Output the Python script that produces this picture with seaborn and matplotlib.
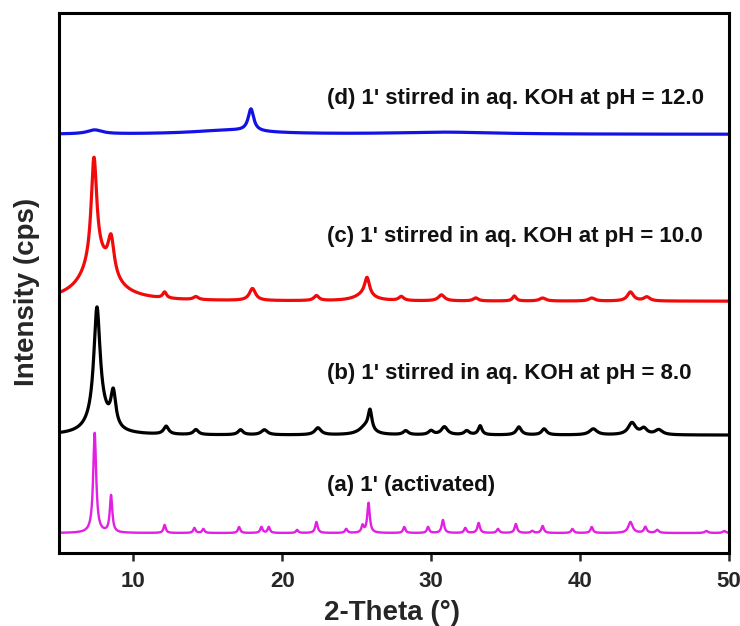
import numpy as np
import pandas as pd
import matplotlib
matplotlib.use("Agg")
import matplotlib.pyplot as plt
import seaborn as sns
from matplotlib import font_manager

# Peak lists per pattern: position (2-theta, deg), height (cps, offset scale), FWHM (deg)
a_pos = [7.4, 8.5, 12.1, 14.1, 14.7, 17.1, 18.6, 19.1, 21.0, 22.3, 24.3, 25.4, 25.8,
         28.2, 29.8, 30.8, 32.3, 33.2, 34.5, 35.7, 36.8, 37.5, 39.5, 40.8, 43.4, 44.4,
         45.2, 48.5, 49.7]
a_hgt = [100, 37, 8, 5, 4, 6, 6, 6, 3, 11, 4, 7, 30,
         6, 6, 13, 5, 10, 4, 9, 2, 7, 4, 6, 11, 6,
         3, 2, 2]
a_wid = [0.24, 0.2, 0.18, 0.18, 0.18, 0.18, 0.18, 0.18, 0.18, 0.2, 0.18, 0.18, 0.2,
         0.18, 0.18, 0.2, 0.18, 0.2, 0.2, 0.2, 0.2, 0.2, 0.2, 0.2, 0.35, 0.22,
         0.25, 0.25, 0.25]

b_pos = [7.55, 7.7, 8.65, 12.2, 14.2, 17.2, 18.8, 22.4, 25.6, 25.9, 28.3, 30.0, 30.9,
         32.4, 33.3, 35.9, 37.6, 40.9, 43.5, 44.3, 45.3]
b_hgt = [108, 20, 34, 8, 5, 5, 5, 7, 8, 20, 4, 4, 8,
         4, 9, 8, 6, 6, 12, 6, 5]
b_wid = [0.5, 1.5, 0.4, 0.4, 0.4, 0.4, 0.5, 0.5, 1.0, 0.3, 0.4, 0.4, 0.5,
         0.4, 0.3, 0.4, 0.4, 0.6, 0.6, 0.5, 0.6]

c_pos = [7.35, 7.6, 8.5, 12.1, 14.2, 18.0, 22.3, 25.5, 25.7, 28.0, 30.7, 33.0,
         35.6, 37.5, 40.8, 43.4, 44.5]
c_hgt = [104, 40, 37, 6, 3, 12, 5, 6, 18, 4, 6, 3,
         5, 3, 3, 9, 4]
c_wid = [0.45, 2.5, 0.5, 0.3, 0.4, 0.5, 0.4, 1.5, 0.4, 0.4, 0.5, 0.4,
         0.3, 0.5, 0.5, 0.5, 0.5]

d_pos = [7.4, 16.5, 17.9, 31.0]
d_hgt = [4, 4, 22, 2]
d_wid = [1.2, 6.0, 0.45, 8.0]

# Vertical offsets of the stacked patterns
offsets = {"a": 20, "b": 118, "c": 252, "d": 419}

labels = {
    "a": "(a) 1' (activated)",
    "b": "(b) 1' stirred in aq. KOH at pH = 8.0",
    "c": "(c) 1' stirred in aq. KOH at pH = 10.0",
    "d": "(d) 1' stirred in aq. KOH at pH = 12.0",
}
label_y = {"a": 68, "b": 180, "c": 317, "d": 455}
colors = {"a": "#E21FE2", "b": "#000000", "c": "#F00A0A", "d": "#1212E6"}
widths = {"a": 1.7, "b": 2.3, "c": 2.3, "d": 2.3}

peaks = {
    "a": (a_pos, a_hgt, a_wid),
    "b": (b_pos, b_hgt, b_wid),
    "c": (c_pos, c_hgt, c_wid),
    "d": (d_pos, d_hgt, d_wid),
}

two_theta = np.arange(5.0, 50.001, 0.02)


def profile(pos, hgt, wid):
    y = np.zeros_like(two_theta)
    for p, h, w in zip(pos, hgt, wid):
        y += h / (1.0 + ((two_theta - p) / (w / 2.0)) ** 2)
    return y


sns.set_style("ticks")
names = {f.name for f in font_manager.fontManager.ttflist}
family = "Liberation Sans Narrow" if "Liberation Sans Narrow" in names else "Liberation Sans"
plt.rcParams["font.family"] = [family, "DejaVu Sans"]
plt.rcParams["font.weight"] = "bold"

fig = plt.figure(figsize=(7.4, 6.26), dpi=100)
ax = fig.add_axes([0.0797, 0.1166, 0.905, 0.862])

for key, (pos, hgt, wid) in peaks.items():
    frame = pd.DataFrame({
        "two_theta": two_theta,
        "intensity": profile(pos, hgt, wid) + offsets[key],
    })
    sns.lineplot(data=frame, x="two_theta", y="intensity", color=colors[key],
                 linewidth=widths[key], ax=ax, estimator=None, sort=False)

for key in ["a", "b", "c", "d"]:
    ax.text(23.0, label_y[key], labels[key], fontsize=16, fontweight="bold",
            ha="left", va="center", color="#111111")

ax.set_xlim(5, 50)
ax.set_ylim(0, 540)
ax.set_xticks([10, 20, 30, 40, 50])
ax.set_yticks([])
ax.tick_params(axis="x", direction="out", length=6, width=1.8, labelsize=16, pad=7)
for lbl in ax.get_xticklabels():
    lbl.set_fontweight("bold")
for sp in ax.spines.values():
    sp.set_linewidth(2.2)
    sp.set_color("black")

ax.set_xlabel("2-Theta (°)", fontsize=20, fontweight="bold")
ax.set_ylabel("Intensity (cps)", fontsize=20, fontweight="bold")
ax.xaxis.set_label_coords(0.497, -0.088)
ax.yaxis.set_label_coords(-0.028, 0.484)

fig.savefig("out.png", dpi=100)
